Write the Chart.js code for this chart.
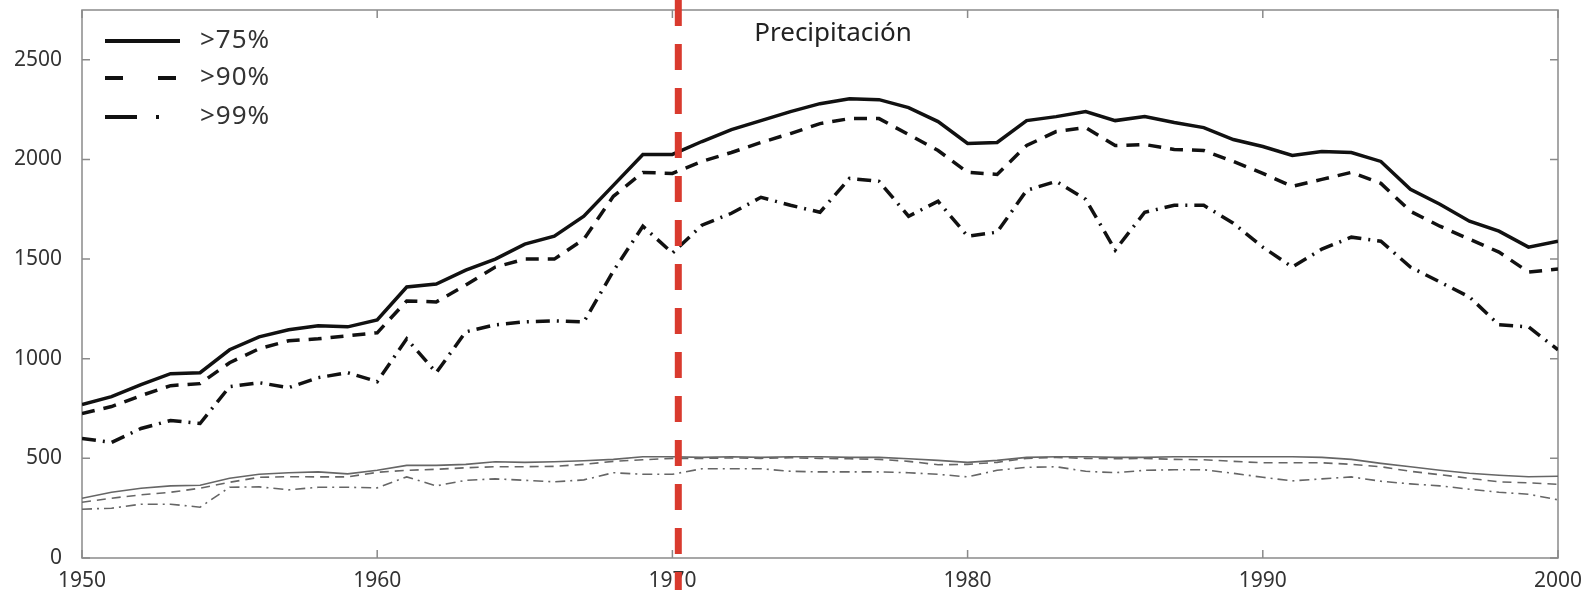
<!DOCTYPE html>
<html>
<head>
<meta charset="utf-8">
<title>Precipitación</title>
<script src="https://cdn.jsdelivr.net/npm/chart.js@4/dist/chart.umd.min.js"></script>
<style>
    html, body { margin: 0; padding: 0; background: #fff; }
    #box { width: 1595px; height: 590px; }
</style>
</head>
<body>
<div id="box"><canvas id="precChart"></canvas></div>
<script>
// años 1950-2000
var years = [];
for (var y = 1950; y <= 2000; y++) years.push(y);

var xTicks = [1950, 1960, 1970, 1980, 1990, 2000];
var yTicks = [0, 500, 1000, 1500, 2000, 2500];
var legendLabels = ['>75%', '>90%', '>99%'];
var titleText = 'Precipitación';
var markYear = 1970.2;

// curvas negras
var p75 = [770, 810, 870, 925, 930, 1045, 1110, 1145, 1165, 1160,
    1195, 1360, 1375, 1445, 1500, 1575, 1615, 1715, 1870, 2025,
    2025, 2090, 2150, 2195, 2240, 2280, 2305, 2300, 2260, 2190,
    2080, 2085, 2195, 2215, 2240, 2195, 2215, 2185, 2160, 2100,
    2065, 2020, 2040, 2035, 1990, 1850, 1775, 1690, 1640, 1560, 1590];
var p90 = [725, 760, 815, 865, 875, 980, 1050, 1090, 1100, 1115,
    1130, 1290, 1285, 1370, 1460, 1500, 1500, 1600, 1815, 1935,
    1930, 1990, 2035, 2085, 2130, 2180, 2205, 2205, 2125, 2045,
    1935, 1925, 2070, 2140, 2160, 2070, 2075, 2050, 2045, 1990,
    1930, 1865, 1900, 1935, 1880, 1740, 1665, 1600, 1535, 1435, 1450];
var p99 = [600, 580, 650, 690, 675, 860, 880, 855, 905, 930,
    885, 1100, 930, 1135, 1170, 1185, 1190, 1185, 1440, 1665,
    1530, 1670, 1730, 1810, 1770, 1735, 1905, 1890, 1715, 1790,
    1615, 1635, 1845, 1890, 1800, 1545, 1735, 1770, 1770, 1680,
    1560, 1460, 1550, 1610, 1590, 1460, 1385, 1310, 1170, 1160, 1045];

// curvas grises
var g75 = [300, 330, 350, 362, 365, 400, 420, 428, 432, 422,
    440, 465, 465, 470, 483, 480, 483, 488, 495, 508,
    508, 505, 508, 505, 508, 508, 505, 505, 498, 490,
    480, 490, 505, 508, 508, 505, 505, 508, 508, 508,
    508, 508, 505, 495, 475, 458, 440, 425, 415, 408, 410];
var g90 = [280, 300, 317, 330, 350, 380, 405, 408, 407, 407,
    430, 440, 445, 453, 458, 458, 460, 470, 485, 493,
    500, 500, 502, 500, 503, 500, 498, 495, 485, 468,
    470, 480, 500, 505, 500, 498, 500, 495, 493, 485,
    478, 478, 478, 470, 458, 435, 418, 400, 382, 377, 370];
var g99 = [245, 250, 270, 270, 255, 355, 357, 342, 355, 355,
    352, 407, 362, 390, 397, 390, 382, 392, 428, 420,
    420, 448, 448, 448, 435, 432, 432, 432, 428, 420,
    407, 440, 455, 458, 435, 428, 440, 443, 443, 425,
    405, 387, 397, 407, 385, 372, 362, 345, 330, 320, 292];

function pts(arr) {
    return arr.map(function (v, i) { return { x: years[i], y: v }; });
}

var dashes = [[], [13, 9], [14, 7, 2, 7]];
var grayDashes = [[], [9, 6], [10, 5, 2, 5]];
var legendDashes = [[], [18, 35], [32, 19, 3, 30]];
var fontFam = '"Noto Sans", "Open Sans", sans-serif';

function line(data, dash, color, width) {
    return {
        data: pts(data),
        borderColor: color,
        borderWidth: width,
        borderDash: dash,
        pointRadius: 0,
        tension: 0,
        fill: false
    };
}

// caja, marcas hacia dentro, línea roja, leyenda y título
var decor = {
    id: 'decor',
    beforeDatasetsDraw: function (chart) {
        var c = chart.ctx, a = chart.chartArea,
            xs = chart.scales.x, ys = chart.scales.y;
        c.save();
        c.strokeStyle = '#8a8a8a';
        c.lineWidth = 1.5;
        c.strokeRect(a.left, a.top, a.right - a.left, a.bottom - a.top);
        c.beginPath();
        yTicks.forEach(function (t) {
            var py = ys.getPixelForValue(t);
            c.moveTo(a.left, py); c.lineTo(a.left + 8, py);
            c.moveTo(a.right, py); c.lineTo(a.right - 8, py);
        });
        xTicks.forEach(function (t) {
            var px = xs.getPixelForValue(t);
            c.moveTo(px, a.bottom); c.lineTo(px, a.bottom - 8);
            c.moveTo(px, a.top); c.lineTo(px, a.top + 8);
        });
        c.stroke();
        c.restore();
    },
    afterDraw: function (chart) {
        var c = chart.ctx, a = chart.chartArea,
            xs = chart.scales.x;
        c.save();
        // línea roja
        var rx = xs.getPixelForValue(markYear);
        c.strokeStyle = '#d93a2e';
        c.lineWidth = 7;
        c.setLineDash([26, 18]);
        c.beginPath();
        c.moveTo(rx, 0);
        c.lineTo(rx, chart.height);
        c.stroke();

        // leyenda
        c.strokeStyle = '#111';
        c.lineWidth = 4;
        c.fillStyle = '#333';
        c.font = '26px ' + fontFam;
        c.letterSpacing = '1px';
        c.textBaseline = 'middle';
        c.textAlign = 'left';
        var rows = [41, 78, 117];
        for (var i = 0; i < 3; i++) {
            c.setLineDash(legendDashes[i]);
            c.beginPath();
            c.moveTo(a.left + 23, rows[i]);
            c.lineTo(a.left + 98, rows[i]);
            c.stroke();
            c.fillText(legendLabels[i], a.left + 118, rows[i]);
        }

        // título
        c.letterSpacing = '0px';
        c.fillStyle = '#222';
        c.font = '26px ' + fontFam;
        c.textAlign = 'center';
        c.fillText(titleText, 833, 34);
        c.restore();
    }
};

var ctx = document.getElementById('precChart').getContext('2d');
var precChart = new Chart(ctx, {
    type: 'line',
    data: {
        datasets: [
            line(p75, dashes[0], '#111', 3.5),
            line(p90, dashes[1], '#111', 3.5),
            line(p99, dashes[2], '#111', 3.5),
            line(g75, grayDashes[0], '#666', 1.6),
            line(g90, grayDashes[1], '#666', 1.6),
            line(g99, grayDashes[2], '#666', 1.6)
        ]
    },
    options: {
        responsive: true,
        maintainAspectRatio: false,
        animation: false,
        layout: { padding: { top: 10, right: 37, left: 0, bottom: 0 } },
        plugins: {
            legend: { display: false },
            tooltip: { enabled: false }
        },
        scales: {
            x: {
                type: 'linear',
                min: 1950,
                max: 2000,
                afterFit: function (s) {
                    s.height = 32;
                    s.paddingLeft = 0;
                    s.paddingRight = 0;
                },
                afterBuildTicks: function (s) {
                    s.ticks = xTicks.map(function (v) { return { value: v }; });
                },
                ticks: {
                    color: '#333',
                    font: { size: 21, family: fontFam },
                    padding: 2,
                    maxRotation: 0,
                    callback: function (v) { return String(v); }
                },
                grid: { display: false },
                border: { display: false }
            },
            y: {
                min: 0,
                max: 2750,
                afterFit: function (s) {
                    s.width = 82;
                    s.paddingTop = 0;
                    s.paddingBottom = 0;
                },
                afterBuildTicks: function (s) {
                    s.ticks = yTicks.map(function (v) { return { value: v }; });
                },
                ticks: {
                    color: '#333',
                    font: { size: 21, family: fontFam },
                    padding: 12,
                    callback: function (v) { return String(v); }
                },
                grid: { display: false },
                border: { display: false }
            }
        }
    },
    plugins: [decor]
});
</script>
</body>
</html>
